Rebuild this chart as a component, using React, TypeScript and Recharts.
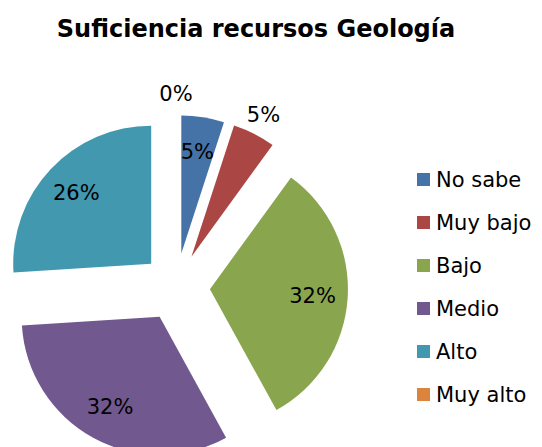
import { PieChart, Pie, Cell, Sector, Legend } from "recharts"

const categories = ["No sabe", "Muy bajo", "Bajo", "Medio", "Alto", "Muy alto"]
const shares = [5, 5, 32, 32, 26, 0]
const colors = ["#4572A7", "#AA4643", "#89A54E", "#71588F", "#4198AF", "#DB843D"]

const data = categories.map((name, i) => ({ name, value: shares[i] }))

const RAD = Math.PI / 180
const EXPLODE = 34
const outsideLabels = ["Muy bajo", "Muy alto"]
const FONT = "'DejaVu Sans', sans-serif"

const ExplodedSlice = (props: any) => {
  const { cx, cy, midAngle } = props
  const x = cx + EXPLODE * Math.cos(-midAngle * RAD)
  const y = cy + EXPLODE * Math.sin(-midAngle * RAD)
  return <Sector {...props} cx={x} cy={y} stroke="none" />
}

const renderLabel = (props: any) => {
  const { cx, cy, midAngle, outerRadius, name, value } = props
  const ex = cx + EXPLODE * Math.cos(-midAngle * RAD)
  const ey = cy + EXPLODE * Math.sin(-midAngle * RAD)
  const r = outsideLabels.includes(name) ? outerRadius * 1.15 : outerRadius * 0.745
  const x = ex + r * Math.cos(-midAngle * RAD)
  const y = ey + r * Math.sin(-midAngle * RAD)
  return (
    <text x={x} y={y} fill="#000" textAnchor="middle" dominantBaseline="central"
      fontFamily={FONT} fontSize={21}>
      {value}%
    </text>
  )
}

// legend drawn from the arrays so the order stays as in the source
const renderLegend = () => (
  <ul style={{ listStyle: "none", margin: 0, padding: 0, fontFamily: FONT }}>
    {categories.map((name, i) => (
      <li key={name} style={{ height: 43, display: "flex", alignItems: "center" }}>
        <span style={{ width: 13, height: 13, background: colors[i], marginRight: 6, display: "inline-block" }} />
        <span style={{ fontSize: 21, color: "#000" }}>{name}</span>
      </li>
    ))}
  </ul>
)

export default function App() {
  return (
    <div style={{ position: "absolute", left: 0, top: 0, background: "#fff" }}>
      <PieChart width={542} height={447} margin={{ top: 0, right: 0, bottom: 0, left: 0 }}>
        <text x={256} y={37} textAnchor="middle" fontFamily={FONT} fontWeight="bold" fontSize={24} fill="#000">
          Suficiencia recursos Geología
        </text>
        <Pie
          data={data}
          dataKey="value"
          nameKey="name"
          cx={176}
          cy={287}
          outerRadius={138}
          startAngle={90}
          endAngle={-270}
          shape={ExplodedSlice}
          label={renderLabel}
          labelLine={false}
          isAnimationActive={false}
        >
          {data.map((d, i) => (
            <Cell key={d.name} fill={colors[i]} />
          ))}
        </Pie>
        <Legend
          layout="vertical"
          verticalAlign="middle"
          align="right"
          content={renderLegend}
          wrapperStyle={{ left: 417, top: 158, width: 125, right: "auto", bottom: "auto" }}
        />
      </PieChart>
    </div>
  )
}
